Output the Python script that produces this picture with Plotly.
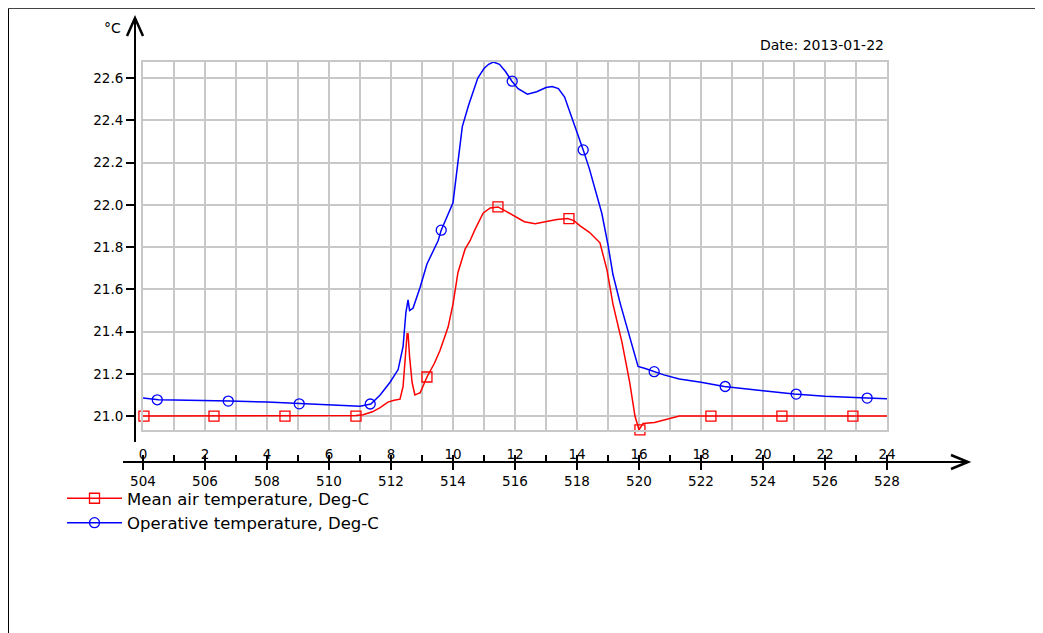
import plotly.graph_objects as go

# ---------------- data ----------------
air_h = [0, 3, 5, 6.87, 7.1, 7.4, 7.65, 7.9, 8.1, 8.29, 8.39, 8.45, 8.52, 8.55, 8.6, 8.68,
         8.77, 8.85, 8.94, 9.16, 9.4, 9.58, 9.84, 10.0, 10.16, 10.39, 10.55, 10.7, 10.97,
         11.2, 11.45, 11.7, 12.0, 12.3, 12.65, 13.0, 13.35, 13.7, 13.9, 14.1, 14.4, 14.74,
         14.97, 15.16, 15.45, 15.7, 15.87, 16.0, 16.13, 16.5, 17.0, 17.3, 20, 24]
air_v = [21.0, 21.0, 21.002, 21.003, 21.006, 21.02, 21.04, 21.066, 21.075, 21.08, 21.14,
         21.25, 21.39, 21.39, 21.28, 21.16, 21.10, 21.105, 21.11, 21.185, 21.25, 21.31,
         21.42, 21.53, 21.68, 21.79, 21.83, 21.88, 21.96, 21.985, 21.99, 21.97, 21.945,
         21.92, 21.91, 21.92, 21.93, 21.935, 21.925, 21.90, 21.87, 21.82, 21.69, 21.53,
         21.35, 21.16, 21.0, 20.935, 20.965, 20.97, 20.99, 21.0, 21.0, 21.0]

op_h = [0, 0.5, 1, 2, 2.8, 4, 5.1, 6, 7.0, 7.35, 7.65, 7.97, 8.23, 8.39, 8.48, 8.55, 8.6,
        8.71, 8.94, 9.16, 9.52, 9.62, 9.8, 10.0, 10.15, 10.3, 10.5, 10.65, 10.8, 11.0,
        11.15, 11.3, 11.5, 11.7, 11.9, 12.1, 12.4, 12.7, 13.0, 13.2, 13.4, 13.6, 13.8,
        14.0, 14.2, 14.4, 14.6, 14.8, 15.0, 15.16, 15.4, 15.7, 15.9, 15.97, 16.2, 16.5,
        16.8, 17.3, 17.6, 18.0, 18.75, 19.3, 20.0, 21.0, 22.0, 23.35, 24]
op_v = [21.085, 21.077, 21.076, 21.074, 21.071, 21.066, 21.058, 21.054, 21.047, 21.057,
        21.10, 21.16, 21.22, 21.33, 21.49, 21.55, 21.50, 21.51, 21.61, 21.72, 21.83,
        21.88, 21.94, 22.01, 22.19, 22.37, 22.47, 22.54, 22.60, 22.645, 22.665, 22.676,
        22.665, 22.63, 22.585, 22.55, 22.524, 22.535, 22.555, 22.56, 22.55, 22.51, 22.43,
        22.34, 22.26, 22.17, 22.07, 21.96, 21.81, 21.67, 21.53, 21.37, 21.26, 21.235,
        21.225, 21.21, 21.195, 21.175, 21.17, 21.16, 21.14, 21.13, 21.12, 21.104, 21.094,
        21.085, 21.082]

air_mark_h = [0.03, 2.29, 4.58, 6.87, 9.16, 11.45, 13.74, 16.03, 18.32, 20.61, 22.9]
air_mark_v = [21.0, 21.0, 21.0, 21.0, 21.185, 21.99, 21.935, 20.935, 21.0, 21.0, 21.0]
op_mark_h = [0.46, 2.75, 5.04, 7.33, 9.62, 11.91, 14.2, 16.49, 18.78, 21.07, 23.36]
op_mark_v = [21.077, 21.071, 21.058, 21.057, 21.88, 22.585, 22.26, 21.21, 21.14, 21.104, 21.085]

hour_ticks = list(range(0, 25, 2))
hour_minor = list(range(1, 24, 2))
hour_labels = [str(h) for h in hour_ticks]
abs_labels = [str(504 + h) for h in hour_ticks]
y_ticks = [21.0, 21.2, 21.4, 21.6, 21.8, 22.0, 22.2, 22.4, 22.6]
y_labels = ["%.1f" % v for v in y_ticks]

series_names = ["Mean air temperature, Deg-C", "Operative temperature, Deg-C"]
date_text = "Date: 2013-01-22"
unit_text = "°C"

# ---------------- layout geometry ----------------
OFF = 8                      # page body margin
W, H = 1043 - OFF, 633 - OFF
ML, MR, MT, MB = 127, 156, 54, 171
PW, PH = W - ML - MR, H - MT - MB


def px(x):                   # page pixel -> paper
    return (x - OFF - ML) / PW


def py(y):
    return (H - MB - (y - OFF)) / PH


RED = "#FF0000"
BLUE = "#0000FF"
GRID = "#C8C8C8"
FONT = "DejaVu Sans, Verdana, sans-serif"
TICKSIZE = 13.5

fig = go.Figure()

fig.add_trace(go.Scatter(x=air_h, y=air_v, mode="lines", line=dict(color=RED, width=1.5),
                         showlegend=False, hoverinfo="skip"))
fig.add_trace(go.Scatter(x=op_h, y=op_v, mode="lines", line=dict(color=BLUE, width=1.5),
                         showlegend=False, hoverinfo="skip"))
fig.add_trace(go.Scatter(x=air_mark_h, y=air_mark_v, mode="markers", cliponaxis=False,
                         marker=dict(symbol="square-open", size=10, color=RED, line=dict(width=1.3)),
                         showlegend=False))
fig.add_trace(go.Scatter(x=op_mark_h, y=op_mark_v, mode="markers", cliponaxis=False,
                         marker=dict(symbol="circle-open", size=10, color=BLUE, line=dict(width=1.3)),
                         showlegend=False))
# legend entries
fig.add_trace(go.Scatter(x=[None], y=[None], mode="lines+markers", name=series_names[0],
                         line=dict(color=RED, width=1.5),
                         marker=dict(symbol="square-open", size=10, color=RED, line=dict(width=1.3))))
fig.add_trace(go.Scatter(x=[None], y=[None], mode="lines+markers", name=series_names[1],
                         line=dict(color=BLUE, width=1.5),
                         marker=dict(symbol="circle-open", size=10, color=BLUE, line=dict(width=1.3))))
# dummy traces to anchor the extra axes
fig.add_trace(go.Scatter(x=[None], y=[None], xaxis="x2", yaxis="y2", showlegend=False))
fig.add_trace(go.Scatter(x=[None], y=[None], xaxis="x3", yaxis="y", showlegend=False))
fig.add_trace(go.Scatter(x=[None], y=[None], xaxis="x4", yaxis="y", showlegend=False))

xr = [0, 24]
yr = [20.934, 22.676]
xdom = [px(143), 1]
ydom = [py(430), 1]

fig.update_layout(
    width=W, height=H,
    margin=dict(l=ML, r=MR, t=MT, b=MB),
    paper_bgcolor="white", plot_bgcolor="white",
    font=dict(family=FONT, size=TICKSIZE, color="black"),
    xaxis=dict(domain=xdom, range=xr, dtick=1, tick0=0, showgrid=True, gridcolor=GRID,
               gridwidth=1.5, showline=True, linecolor=GRID, linewidth=1.5, mirror=True,
               showticklabels=False, ticks="", zeroline=False, anchor="y"),
    yaxis=dict(domain=ydom, range=yr, tickvals=y_ticks, showgrid=True, gridcolor=GRID,
               gridwidth=1.5, showline=True, linecolor=GRID, linewidth=1.5, mirror=True,
               showticklabels=False, ticks="", zeroline=False, anchor="x"),
    yaxis2=dict(overlaying="y", anchor="free", position=0, range=yr, tickvals=y_ticks,
                ticktext=y_labels, ticks="outside", ticklen=9, tickwidth=2, tickcolor="black",
                showgrid=False, zeroline=False, showline=False, side="left",
                tickfont=dict(size=TICKSIZE)),
    # lower labels (504..528) with downward major ticks
    xaxis2=dict(overlaying="x", anchor="free", position=0, range=xr, tickvals=hour_ticks,
                ticktext=abs_labels, ticks="outside", ticklen=7, tickwidth=2, tickcolor="black",
                showgrid=False, zeroline=False, showline=False, side="bottom",
                tickfont=dict(size=TICKSIZE), ticklabelstandoff=0),
    # upper labels (0..24), no ticks so the labels sit close to the axis
    xaxis3=dict(overlaying="x", anchor="free", position=0, range=xr, tickvals=hour_ticks,
                ticktext=hour_labels, ticks="", showgrid=False, zeroline=False,
                showline=False, side="top", tickfont=dict(size=TICKSIZE)),
    # upward ticks, major and minor
    xaxis4=dict(overlaying="x", anchor="free", position=0, range=xr, tickvals=hour_ticks,
                showticklabels=False, ticks="outside", ticklen=7, tickwidth=2,
                tickcolor="black", showgrid=False, zeroline=False, showline=False, side="top",
                minor=dict(tickvals=hour_minor, ticks="outside", ticklen=7,
                           tickwidth=1.5, tickcolor="black")),
    legend=dict(x=px(62), y=py(481), xanchor="left", yanchor="top",
                bgcolor="rgba(0,0,0,0)", font=dict(size=16.5), tracegroupgap=0,
                itemwidth=55),
    showlegend=True,
)

shapes = []
# outer frame (left and top)
shapes.append(dict(type="line", xref="paper", yref="paper", x0=px(8), x1=px(8),
                   y0=py(8), y1=py(640), line=dict(color="black", width=2)))
shapes.append(dict(type="line", xref="paper", yref="paper", x0=px(8), x1=px(1050),
                   y0=py(8), y1=py(8), line=dict(color="#444444", width=2)))
# y axis with arrow
shapes.append(dict(type="line", xref="paper", yref="paper", x0=px(135), x1=px(135),
                   y0=py(442), y1=py(20), line=dict(color="black", width=2)))
shapes.append(dict(type="path", xref="paper", yref="paper",
                   path="M %f,%f L %f,%f L %f,%f" % (px(127), py(36), px(135), py(18), px(143), py(36)),
                   line=dict(color="black", width=2.5)))
# x axis with arrow
shapes.append(dict(type="line", xref="paper", yref="paper", x0=px(123), x1=px(967),
                   y0=py(462), y1=py(462), line=dict(color="black", width=2)))
shapes.append(dict(type="path", xref="paper", yref="paper",
                   path="M %f,%f L %f,%f L %f,%f" % (px(951), py(455), px(968), py(462), px(951), py(469)),
                   line=dict(color="black", width=2.5)))
fig.update_layout(shapes=shapes)

fig.add_annotation(text=unit_text, xref="paper", yref="paper", x=px(123), y=py(28),
                   xanchor="right", yanchor="middle", showarrow=False, font=dict(size=14))
fig.add_annotation(text=date_text, xref="paper", yref="paper", x=px(886), y=py(45),
                   xanchor="right", yanchor="middle", showarrow=False, font=dict(size=14))

fig.write_html("out.html")
